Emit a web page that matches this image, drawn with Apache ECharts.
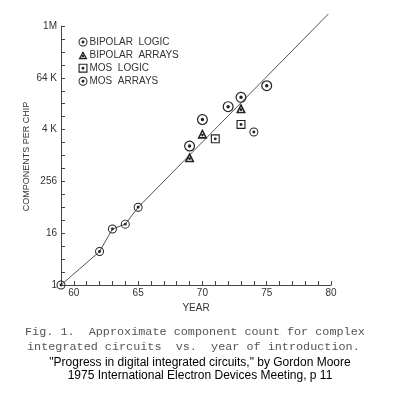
<!DOCTYPE html>
<html><head><meta charset="utf-8">
<script src="https://cdn.jsdelivr.net/npm/echarts@6/dist/echarts.min.js"></script>
<style>html,body{margin:0;padding:0;background:#fff}#c{width:400px;height:393px}</style>
</head><body><div id="c"></div>
<script>
const bipolarLogicYears = [59, 62, 63, 64, 65, 74];
const bipolarLogicCounts = [1, 6, 20, 26, 64, 3600];
const bipolarArraysYears = [69, 70, 73];
const bipolarArraysCounts = [930, 3300, 12800];
const mosLogicYears = [71, 73];
const mosLogicCounts = [2500, 5400];
const mosArraysYears = [69, 70, 72, 73, 75];
const mosArraysCounts = [1700, 7000, 14000, 23000, 43000];
const trendYears = [59, 62, 63, 64, 65, 79.8];
const trendCounts = [1, 6, 20, 26, 64, 2000000];
const xTickLabels = ['60', '65', '70', '75', '80'];
const yTickValues = [1, 16, 256, 4096, 65536, 1048576];
const yTickLabels = ['1', '16', '256', '4 K', '64 K', '1M'];
const seriesNames = ['BIPOLAR  LOGIC', 'BIPOLAR  ARRAYS', 'MOS  LOGIC', 'MOS  ARRAYS'];

const ring = 'M0,-10 A10,10 0 1,1 0,10 A10,10 0 1,1 0,-10 Z M0,-7.8 A7.8,7.8 0 1,0 0,7.8 A7.8,7.8 0 1,0 0,-7.8 Z M0,-3.2 A3.2,3.2 0 1,1 0,3.2 A3.2,3.2 0 1,1 0,-3.2 Z';
const tri = 'M0,-10 L10,8 L-10,8 Z M0,-4 L-5,5 L5,5 Z M0,-1 A2.5,2.5 0 1,1 0,4 A2.5,2.5 0 1,1 0,-1 Z';
const sq = 'M-10,-10 L10,-10 L10,10 L-10,10 Z M-7.5,-7.5 L-7.5,7.5 L7.5,7.5 L7.5,-7.5 Z M0,-3.2 A3.2,3.2 0 1,1 0,3.2 A3.2,3.2 0 1,1 0,-3.2 Z';
const symbols = ['path://' + ring, 'path://' + tri, 'path://' + sq, 'path://' + ring];
const sizes = [9, 10, 9, 11];

// y axis is a base-2 logarithmic scale: counts are placed by their log2
function pairs(xs, ys) { return xs.map((x, i) => [x, Math.log2(ys[i])]); }
const groups = [
  pairs(bipolarLogicYears, bipolarLogicCounts),
  pairs(bipolarArraysYears, bipolarArraysCounts),
  pairs(mosLogicYears, mosLogicCounts),
  pairs(mosArraysYears, mosArraysCounts)
];

const chart = echarts.init(document.getElementById('c'), null, {renderer: 'canvas'});
const labelFont = {color: '#333', fontSize: 10, fontFamily: 'Liberation Sans, Arial, sans-serif'};
chart.setOption({
  animation: false,
  backgroundColor: '#fff',
  grid: {left: 61, right: 69, top: 26, bottom: 108},
  legend: {
    orient: 'vertical', left: 78.5, top: 37, padding: 0,
    itemWidth: 9, itemHeight: 9, itemGap: 3.1,
    data: seriesNames.map((n, i) => ({name: n, icon: symbols[i]})),
    textStyle: {color: '#333', fontSize: 10, fontFamily: 'Liberation Sans, Arial, sans-serif', padding: [0, 0, 0, -3]},
    itemStyle: {color: '#222'}
  },
  xAxis: {
    type: 'value', min: 59, max: 80, interval: 1,
    name: 'YEAR', nameLocation: 'middle', nameGap: 15,
    nameTextStyle: labelFont,
    axisLine: {lineStyle: {color: '#444', width: 1}},
    axisTick: {inside: true, length: 4, lineStyle: {color: '#444'}},
    splitLine: {show: false},
    axisLabel: Object.assign({margin: 3, formatter: v => xTickLabels.includes(String(v)) ? String(v) : ''}, labelFont)
  },
  yAxis: {
    type: 'value', min: 0, max: 20, interval: 4,
    axisLine: {show: true, lineStyle: {color: '#444', width: 1}},
    axisTick: {show: true, inside: true, length: 4, lineStyle: {color: '#444', width: 1}},
    minorTick: {show: true, splitNumber: 4, length: 4, lineStyle: {color: '#444', width: 1}},
    splitLine: {show: false},
    minorSplitLine: {show: false},
    axisLabel: Object.assign({margin: 4, formatter: v => {
      const idx = yTickValues.findIndex(t => Math.round(Math.log2(t)) === Math.round(v));
      return idx >= 0 ? yTickLabels[idx] : '';
    }}, labelFont)
  },
  series: [
    {
      type: 'line', data: pairs(trendYears, trendCounts), showSymbol: false, clip: false,
      lineStyle: {color: '#555', width: 1}, silent: true, z: 1
    }
  ].concat(groups.map((d, i) => ({
    type: 'scatter', name: seriesNames[i], data: d,
    symbol: symbols[i], symbolSize: sizes[i],
    itemStyle: {color: '#222', opacity: 1}, z: 3
  }))),
  graphic: [
    {type: 'text', x: 27, y: 156.5, rotation: Math.PI / 2, style: {text: 'COMPONENTS PER CHIP', align: 'center', verticalAlign: 'middle', font: '9px "Liberation Sans", Arial, sans-serif', fill: '#333'}},
    {type: 'text', left: 25, top: 326, style: {text: 'Fig. 1.  Approximate component count for complex', font: '11.8px "Liberation Mono", monospace', fill: '#555'}},
    {type: 'text', left: 27, top: 341, style: {text: 'integrated circuits  vs.  year of introduction.', font: '11.8px "Liberation Mono", monospace', fill: '#555'}},
    {type: 'text', left: 'center', top: 357, style: {text: '"Progress in digital integrated circuits," by Gordon Moore', font: '12px "Liberation Sans", Arial, sans-serif', fill: '#000'}},
    {type: 'text', left: 'center', top: 370, style: {text: '1975 International Electron Devices Meeting, p 11', font: '12px "Liberation Sans", Arial, sans-serif', fill: '#000'}}
  ]
});
</script></body></html>
